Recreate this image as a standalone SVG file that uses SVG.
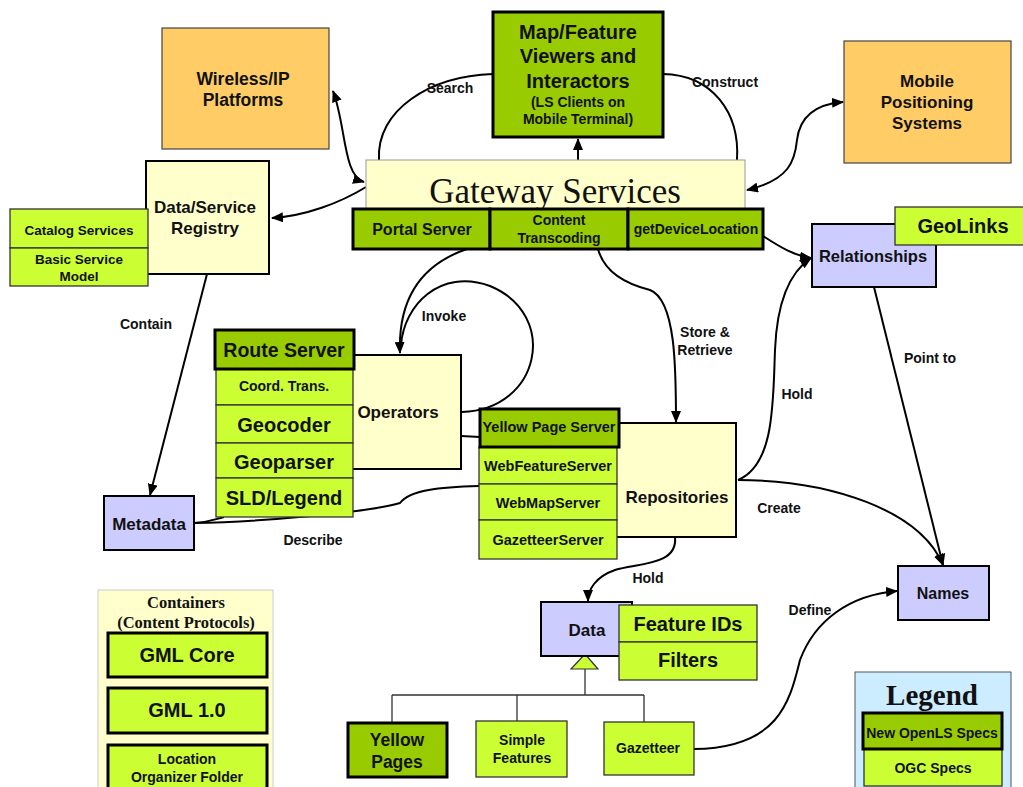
<svg xmlns="http://www.w3.org/2000/svg" width="1023" height="787" viewBox="0 0 1023 787">
<defs>
<marker id="arr" viewBox="0 0 12 10" refX="11" refY="5" markerWidth="12" markerHeight="10" orient="auto-start-reverse" markerUnits="userSpaceOnUse"><path d="M0,0 L12,5 L0,10 z" fill="#000"/></marker>
<style>
text{font-family:"Liberation Sans",Arial,sans-serif;font-weight:bold;fill:#111;text-anchor:middle}
.serif{font-family:"Liberation Serif","Times New Roman",serif}
.orange{fill:#FFCC66;stroke:#444;stroke-width:1.2}
.cream{fill:#FFFFCC;stroke:#000;stroke-width:2}
.creamthin{fill:#FFFFCC;stroke:#999;stroke-width:1}
.dark{fill:#99CC00;stroke:#000;stroke-width:3}
.lime{fill:#CCFF33;stroke:#333;stroke-width:1.3}
.limeb{fill:#CCFF33;stroke:#000;stroke-width:3}
.lav{fill:#CCCCFF;stroke:#000;stroke-width:2}
.conn{fill:none;stroke:#000;stroke-width:2}
.tree{fill:none;stroke:#333;stroke-width:1.3}
.lbl{font-size:14px}
</style>
</defs>

<g id="connectors">
<path class="conn" d="M379,160 C376,110 430,76 493,74"/>
<path class="conn" d="M663,74 C712,75 740,112 737,160"/>
<path class="conn" d="M578,160 L578,139" stroke-width="3" marker-end="url(#arr)"/>
<path class="conn" d="M333,91 C346,125 343,176 364,182" marker-start="url(#arr)" marker-end="url(#arr)"/>
<path class="conn" d="M366,187 C340,203 305,216 272,218" marker-end="url(#arr)"/>
<path class="conn" d="M747,190 C790,180 795,160 797,140 C800,115 818,104 843,102" marker-start="url(#arr)" marker-end="url(#arr)"/>
<path class="conn" d="M763,236 C780,247 795,256 811,258" marker-end="url(#arr)"/>
<path class="conn" d="M467,249 C420,265 398,300 400,353" marker-end="url(#arr)"/>
<path class="conn" d="M462,412 C540,410 560,315 490,286 C440,268 404,305 401,345"/>
<path class="conn" d="M598,249 C605,275 630,285 650,290 C676,300 676,370 676,422" marker-end="url(#arr)"/>
<path class="conn" d="M738,480 C775,465 773,400 775,350 C777,300 790,272 811,258" marker-end="url(#arr)"/>
<path class="conn" d="M738,480 C830,480 920,510 943,565" marker-end="url(#arr)"/>
<path class="conn" d="M874,287 L943,565" marker-end="url(#arr)"/>
<path class="conn" d="M207,274 L150,495" marker-end="url(#arr)"/>
<path class="conn" d="M194,523 C260,522 370,512 400,503 C410,490 440,487 479,486"/>
<path class="conn" d="M194,523 C210,522 216,519 224,517"/>
<path class="conn" d="M461,436 L480,437"/>
<path class="conn" d="M675,537 C678,565 640,563 615,570 C595,577 588,590 588,601" marker-end="url(#arr)"/>
<path class="conn" d="M694,749 C780,748 790,700 800,660 C815,620 850,595 897,591" marker-end="url(#arr)"/>
<path class="tree" d="M585,669 L585,695 M392,695 L644,695 M392,695 L392,723 M517,695 L517,721 M644,695 L644,722"/>
<polygon points="585,654 571,669 598,669" fill="#CCFF33" stroke="#333" stroke-width="1.2"/>
</g>

<g id="labels">
<text class="lbl" x="450" y="93">Search</text>
<text class="lbl" x="725" y="87">Construct</text>
<text class="lbl" x="146" y="329">Contain</text>
<text class="lbl" x="444" y="321">Invoke</text>
<text class="lbl" x="705" y="337">Store &amp;</text>
<text class="lbl" x="705" y="355">Retrieve</text>
<text class="lbl" x="797" y="399">Hold</text>
<text class="lbl" x="930" y="363">Point to</text>
<text class="lbl" x="779" y="513">Create</text>
<text class="lbl" x="313" y="545">Describe</text>
<text class="lbl" x="648" y="583">Hold</text>
<text class="lbl" x="810" y="615">Define</text>
</g>

<g id="wireless">
<rect class="orange" x="162" y="28" width="167" height="121"/>
<text x="243" y="85" font-size="17.5">Wireless/IP</text>
<text x="243" y="106" font-size="17.5">Platforms</text>
</g>

<g id="registry">
<rect class="cream" x="146" y="161" width="123" height="113"/>
<text x="205" y="213" font-size="17">Data/Service</text>
<text x="205" y="234" font-size="17">Registry</text>
</g>

<g id="catalog">
<rect class="lime" x="10" y="209" width="138" height="39"/>
<text x="79" y="235" font-size="13.5">Catalog Services</text>
<rect class="lime" x="10" y="248" width="138" height="38"/>
<text x="79" y="264" font-size="13.5">Basic Service</text>
<text x="79" y="281" font-size="13.5">Model</text>
</g>

<g id="viewers">
<rect class="dark" x="493" y="12" width="170" height="125"/>
<text x="578" y="39" font-size="20">Map/Feature</text>
<text x="578" y="63" font-size="20">Viewers and</text>
<text x="578" y="88" font-size="20">Interactors</text>
<text x="578" y="107" font-size="14">(LS Clients on</text>
<text x="578" y="124" font-size="14">Mobile Terminal)</text>
</g>

<g id="gateway">
<rect class="creamthin" x="366" y="160" width="379" height="50" stroke="#666"/>
<text class="serif" x="555" y="203" font-size="35" style="font-weight:normal">Gateway Services</text>
<rect class="dark" x="353" y="209" width="137" height="40"/>
<text x="422" y="235" font-size="16">Portal Server</text>
<rect class="dark" x="490" y="209" width="138" height="40"/>
<text x="559" y="225" font-size="14">Content</text>
<text x="559" y="243" font-size="14">Transcoding</text>
<rect class="dark" x="628" y="209" width="135" height="40"/>
<text x="696" y="234" font-size="14">getDeviceLocation</text>
</g>

<g id="mobile">
<rect class="orange" x="844" y="41" width="167" height="122"/>
<text x="927" y="87" font-size="17">Mobile</text>
<text x="927" y="108" font-size="17">Positioning</text>
<text x="927" y="129" font-size="17">Systems</text>
</g>

<g id="relationships">
<rect class="lav" x="812" y="224" width="124" height="63"/>
<text x="873" y="262" font-size="16.5">Relationships</text>
<rect class="lime" x="895" y="207" width="130" height="38"/>
<text x="963" y="233" font-size="20">GeoLinks</text>
</g>

<g id="operators">
<rect class="cream" x="340" y="355" width="121" height="114"/>
<text x="398" y="418" font-size="17">Operators</text>
<rect class="lime" x="216" y="369" width="137" height="36"/>
<text x="284" y="391" font-size="14">Coord. Trans.</text>
<rect class="lime" x="216" y="405" width="137" height="38"/>
<text x="284" y="432" font-size="20">Geocoder</text>
<rect class="lime" x="216" y="443" width="137" height="35"/>
<text x="284" y="469" font-size="20">Geoparser</text>
<rect class="lime" x="216" y="478" width="137" height="39"/>
<text x="284" y="505" font-size="20">SLD/Legend</text>
<rect class="dark" x="215" y="330" width="139" height="39"/>
<text x="284" y="357" font-size="19.5">Route Server</text>
</g>

<g id="metadata">
<rect class="lav" x="104" y="496" width="90" height="54"/>
<text x="149" y="530" font-size="17">Metadata</text>
</g>

<g id="repositories">
<rect class="cream" x="600" y="423" width="136" height="114"/>
<text x="677" y="503" font-size="17">Repositories</text>
<rect class="lime" x="479" y="447" width="138" height="37"/>
<text x="548" y="471" font-size="14.5">WebFeatureServer</text>
<rect class="lime" x="479" y="484" width="138" height="36"/>
<text x="548" y="508" font-size="14.5">WebMapServer</text>
<rect class="lime" x="479" y="520" width="138" height="39"/>
<text x="548" y="545" font-size="14.5">GazetteerServer</text>
<rect class="dark" x="480" y="409" width="139" height="38"/>
<text x="549" y="432" font-size="14.5">Yellow Page Server</text>
</g>

<g id="names">
<rect class="lav" x="898" y="566" width="91" height="54"/>
<text x="943" y="599" font-size="16">Names</text>
</g>

<g id="data">
<rect class="lav" x="541" y="602" width="91" height="54"/>
<text x="587" y="636" font-size="17">Data</text>
<rect class="lime" x="619" y="605" width="138" height="37"/>
<text x="688" y="631" font-size="20">Feature IDs</text>
<rect class="lime" x="619" y="642" width="138" height="38"/>
<text x="688" y="667" font-size="20">Filters</text>
</g>

<g id="yellowpages">
<rect class="dark" x="348" y="723" width="99" height="54"/>
<text x="397" y="746" font-size="17.5">Yellow</text>
<text x="397" y="768" font-size="17.5">Pages</text>
</g>

<g id="simplefeatures">
<rect class="lime" x="476" y="721" width="91" height="56"/>
<text x="522" y="745" font-size="14">Simple</text>
<text x="522" y="763" font-size="14">Features</text>
</g>

<g id="gazetteer">
<rect class="lime" x="604" y="722" width="90" height="53"/>
<text x="648" y="753" font-size="14">Gazetteer</text>
</g>

<g id="containers">
<rect x="98" y="590" width="175" height="210" fill="#FFFFCC" stroke="#ccc" stroke-width="1"/>
<text class="serif" x="186" y="608" font-size="16.5">Containers</text>
<text class="serif" x="186" y="628" font-size="16.5">(Content Protocols)</text>
<rect class="limeb" x="108" y="633" width="159" height="44"/>
<text x="187" y="662" font-size="20">GML Core</text>
<rect class="limeb" x="108" y="688" width="159" height="45"/>
<text x="187" y="717" font-size="20">GML 1.0</text>
<rect class="limeb" x="108" y="745" width="159" height="55"/>
<text x="187" y="764" font-size="14">Location</text>
<text x="187" y="782" font-size="14">Organizer Folder</text>
</g>

<g id="legend">
<rect x="855" y="672" width="156" height="130" fill="#CCECFF" stroke="#555" stroke-width="1"/>
<text class="serif" x="932" y="705" font-size="29">Legend</text>
<rect class="lime" x="864" y="749" width="138" height="37"/>
<text x="933" y="773" font-size="14">OGC Specs</text>
<rect class="dark" x="863" y="713" width="139" height="36"/>
<text x="932" y="738" font-size="14">New OpenLS Specs</text>
</g>
</svg>
